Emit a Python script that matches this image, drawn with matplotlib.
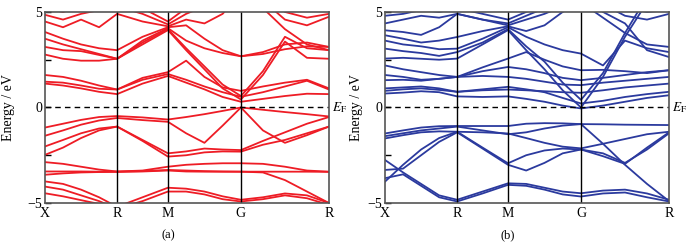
import numpy as np
import matplotlib.pyplot as plt

plt.rcParams['font.family'] = ['Liberation Serif', 'DejaVu Serif']
plt.rcParams['mathtext.fontset'] = 'stix'

# k-path: X - R - M - G - R (fraction of path length)
kpts = [0, .0635, .127, .1905, .254, .3435, .433, .497, .5615, .6255, .69, .7675, .845, .9225, 1.0]
knodes = [0, .254, .433, .69, 1.0]
klabels = ['X', 'R', 'M', 'G', 'R']

# panel (a) bands, eV at each k point
bands_a = [
    [1.25, 1.15, 1.0, 0.82, 0.7, 1.25, 1.65, 1.3, 0.95, 0.55, 0.3, 0.45, 0.6, 0.72, 0.7],
    [1.35, 1.3, 1.15, 0.98, 0.94, 1.45, 1.75, 1.45, 1.1, 0.8, 0.56, 0.8, 1.1, 1.4, 0.94],
    [1.7, 1.6, 1.4, 1.15, 0.94, 1.55, 1.85, 2.45, 1.6, 1.05, 0.87, 1.1, 1.3, 1.45, 1.0],
    [2.77, 2.55, 2.45, 2.45, 2.55, 3.3, 4.05, 3.0, 2.0, 1.0, 0.42, 1.7, 3.45, 2.6, 2.55],
    [3.17, 3.0, 2.95, 2.75, 2.55, 3.4, 4.1, 3.1, 2.15, 1.2, 0.6, 1.9, 3.7, 3.1, 3.0],
    [3.6, 3.3, 3.05, 2.8, 2.55, 3.5, 4.15, 3.5, 3.1, 2.85, 2.68, 2.8, 3.05, 3.2, 3.17],
    [3.95, 3.6, 3.3, 3.1, 3.0, 3.7, 4.2, 4.3, 3.6, 3.0, 2.68, 2.9, 3.3, 3.4, 3.17],
    [4.5, 4.2, 4.6, 4.2, 4.9, 4.5, 4.25, 4.6, 4.4, 4.9, 6.0, 5.2, 4.1, 3.3, 3.0],
    [4.85, 4.6, 4.9, 5.1, 5.3, 4.9, 4.35, 4.9, 5.3, 5.6, 6.2, 5.6, 4.6, 4.3, 4.75],
    [5.2, 5.0, 5.3, 5.5, 5.6, 5.2, 4.5, 5.2, 5.6, 6.0, 6.5, 5.9, 5.0, 4.7, 4.9],
    [-1.05, -0.85, -0.65, -0.5, -0.45, -0.52, -0.63, -0.5, -0.35, -0.18, 0.0, -0.12, -0.24, -0.35, -0.47],
    [-1.48, -1.2, -0.9, -0.68, -0.55, -0.66, -0.75, -1.35, -1.85, -0.95, 0.0, -1.2, -1.85, -1.45, -1.0],
    [-2.04, -1.7, -1.35, -1.1, -1.0, -1.7, -2.4, -2.3, -2.15, -2.2, -2.23, -1.75, -1.3, -0.85, -0.5],
    [-2.48, -2.1, -1.6, -1.2, -1.0, -1.75, -2.57, -2.5, -2.35, -2.3, -2.31, -1.95, -1.7, -1.35, -1.0],
    [-2.86, -2.95, -3.1, -3.25, -3.35, -3.3, -3.1, -3.0, -2.95, -2.92, -2.92, -2.95, -3.1, -3.3, -3.36],
    [-3.35, -3.35, -3.35, -3.36, -3.36, -3.33, -3.27, -3.3, -3.33, -3.35, -3.36, -3.4, -3.8, -4.4, -5.0],
    [-3.52, -3.45, -3.4, -3.38, -3.37, -3.35, -3.3, -3.35, -3.36, -3.36, -3.36, -3.36, -3.36, -3.36, -3.37],
    [-3.87, -4.0, -4.3, -4.7, -5.2, -4.7, -4.2, -4.25, -4.4, -4.65, -4.83, -4.7, -4.5, -4.6, -5.0],
    [-4.14, -4.3, -4.6, -4.9, -5.3, -4.9, -4.4, -4.4, -4.55, -4.8, -4.92, -4.8, -4.6, -4.75, -5.1],
    [-4.49, -4.65, -4.85, -5.05, -5.3, -5.5, -5.5, -5.5, -5.4, -5.3, -5.3, -5.3, -5.3, -5.4, -5.5],
]

# panel (b) bands
bands_b = [
    [0.73, 0.78, 0.85, 0.8, 0.58, 0.55, 0.58, 0.45, 0.3, 0.1, -0.05, 0.1, 0.3, 0.5, 0.64],
    [0.87, 0.95, 1.0, 0.92, 0.82, 0.95, 1.08, 0.95, 0.8, 0.5, 0.21, 0.35, 0.55, 0.7, 0.82],
    [1.0, 1.05, 1.1, 1.0, 0.82, 0.9, 0.94, 0.9, 0.85, 0.8, 0.77, 0.9, 1.05, 1.15, 1.25],
    [1.43, 1.45, 1.4, 1.5, 1.6, 1.65, 1.6, 1.5, 1.35, 1.2, 1.17, 1.3, 1.4, 1.5, 1.6],
    [1.7, 1.6, 1.45, 1.5, 1.6, 1.9, 2.12, 2.0, 1.8, 1.55, 1.43, 1.55, 1.7, 1.85, 1.95],
    [2.2, 2.0, 1.85, 1.7, 1.6, 2.1, 2.56, 2.9, 2.5, 2.15, 1.95, 1.97, 1.9, 1.8, 1.95],
    [2.56, 2.6, 2.55, 2.5, 2.56, 3.3, 4.05, 3.0, 2.0, 0.9, 0.0, 1.6, 3.7, 5.5, 6.0],
    [3.08, 2.95, 2.85, 2.7, 2.9, 3.4, 4.1, 3.2, 2.4, 1.3, 0.4, 1.8, 3.9, 5.8, 6.2],
    [3.5, 3.3, 3.2, 3.05, 3.08, 3.6, 4.2, 3.7, 3.3, 3.0, 2.82, 2.2, 3.5, 3.1, 2.9],
    [3.78, 3.6, 3.4, 3.5, 3.69, 4.0, 4.25, 4.0, 4.3, 5.0, 5.5, 4.7, 3.9, 3.3, 3.17],
    [4.04, 3.95, 3.8, 4.2, 4.9, 4.6, 4.3, 4.6, 4.9, 5.3, 5.8, 5.0, 4.4, 3.0, 2.64],
    [4.4, 4.6, 4.8, 4.7, 4.9, 4.6, 4.4, 4.8, 5.2, 5.5, 6.0, 5.4, 4.8, 4.6, 4.9],
    [4.8, 4.9, 5.1, 5.0, 5.2, 4.9, 4.6, 5.0, 5.4, 5.8, 6.2, 5.8, 5.2, 5.0, 5.1],
    [-1.36, -1.2, -1.05, -0.98, -0.97, -0.97, -0.97, -0.85, -0.82, -0.83, -0.87, -0.88, -0.9, -0.91, -0.92],
    [-1.62, -1.45, -1.3, -1.25, -1.27, -1.3, -1.36, -1.6, -1.85, -2.05, -2.14, -1.9, -1.65, -1.4, -1.27],
    [-1.5, -1.35, -1.2, -1.1, -1.0, -1.2, -1.4, -1.3, -1.1, -0.95, -0.87, -1.9, -3.0, -4.0, -4.9],
    [-3.88, -3.0, -2.2, -1.6, -1.27, -2.1, -2.92, -2.5, -2.25, -2.15, -2.2, -2.55, -2.95, -2.1, -1.3],
    [-3.27, -3.2, -2.5, -1.8, -1.3, -2.15, -3.0, -3.3, -2.9, -2.4, -2.2, -2.4, -2.9, -2.2, -1.35],
    [-2.75, -3.4, -4.0, -4.6, -4.83, -4.4, -3.97, -4.0, -4.2, -4.4, -4.49, -4.35, -4.3, -4.5, -4.83],
    [-3.7, -3.5, -4.1, -4.7, -4.92, -4.5, -4.05, -4.1, -4.3, -4.55, -4.66, -4.5, -4.45, -4.7, -4.92],
]

fig = plt.figure(figsize=[6.93, 2.44], dpi=100)
ax1 = fig.add_axes([0.0649, 0.168, 0.4098, 0.783])
ax2 = fig.add_axes([0.5556, 0.168, 0.4098, 0.783])

for ax, bands, col, cap, lx in zip([ax1, ax2], [bands_a, bands_b], ['#ee1c25', '#2b3a9e'],
                                   ['(a)', '(b)'], [-0.105, -0.078]):
    for b in bands:
        ax.plot(kpts, b, '-', c=col, lw=1.3)
    for k in knodes[1:-1]:
        ax.axvline(k, c='k', lw=1.0)
    ax.axhline(0, c='k', ls=(0, (4, 3)), lw=1.0)
    ax.set_xlim([0, 1])
    ax.set_ylim([-5, 5])
    ax.set_xticks(knodes)
    ax.set_xticklabels(klabels, fontsize=10)
    ax.set_yticks([-5, -2.5, 0, 2.5, 5])
    ax.set_yticklabels(['\u22125', '', '0', '', '5'], fontsize=10)
    ax.tick_params(axis='y', direction='in', length=4, width=1, right=False, pad=2)
    ax.tick_params(axis='x', length=0, pad=3)
    ax.set_ylabel('Energy / eV', fontsize=10)
    ax.yaxis.set_label_coords(lx, 0.5)
    for s in ax.spines.values():
        s.set_color('#555555')
        s.set_linewidth(1.2)
    ax.text(1.01, 0, r'$E_{\mathrm{F}}$', transform=ax.get_yaxis_transform(),
            fontsize=9.5, va='center', ha='left')
    ax.text(0.433, -0.17, cap, transform=ax.transAxes, fontsize=9, ha='center', va='center')

plt.savefig('out.png', dpi=100)
plt.close()
